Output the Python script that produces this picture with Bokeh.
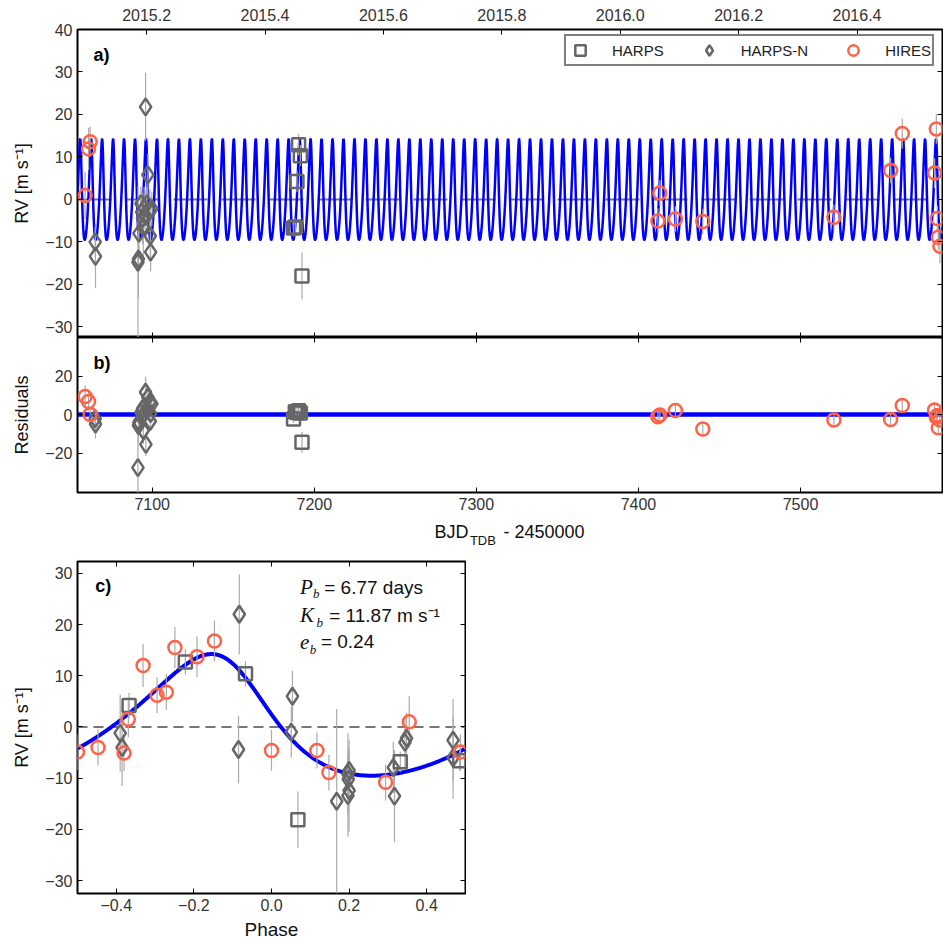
import numpy as np
from bokeh.plotting import figure
from bokeh.models import (Range1d, LinearAxis, FixedTicker, CustomJSTickFormatter,
                          PrintfTickFormatter, Span, Label, Legend, LegendItem)
from bokeh.layouts import column
from bokeh.embed import file_html
from bokeh.resources import INLINE

# ---------------- data ----------------
# panel a / b : time series (BJD_TDB - 2450000)
harps_t = [7187.2, 7188.3, 7189.3, 7190.3, 7191.4, 7192.4]
harps_rv = [-6.7, -6.5, 4.2, 12.9, 10.3, -18.0]
harps_err = [2.0, 2.0, 2.5, 2.5, 2.5, 5.5]
harps_res = [-2.3, 1.5, 1.0, 2.0, 0.8, -14.4]

harpsn_t = [7064.8, 7065.0, 7091.2, 7091.5, 7091.8, 7093.0, 7093.5, 7094.0, 7094.5,
            7095.0, 7095.9, 7096.1, 7096.8, 7097.3, 7098.5, 7098.8, 7099.0, 7099.8]
harpsn_rv = [-10.0, -13.4, -14.8, -14.0, -8.0, -1.0, -3.0, -4.5, -6.5,
             -2.0, 21.8, -4.0, -1.0, 5.8, -2.6, -8.6, -12.4, -2.2]
harpsn_err = [3.5, 7.5, 18.0, 9.0, 6.0, 4.0, 5.0, 6.0, 7.0,
              5.0, 8.0, 6.0, 4.0, 5.0, 5.0, 5.0, 4.5, 4.0]
harpsn_res = [-2.2, -4.9, -27.6, -5.7, -4.0, 1.0, -1.5, 3.0, -8.3,
              0.5, 11.6, -15.5, 2.0, 9.0, 6.4, -3.5, 0.5, 5.6]

hires_t = [7058.6, 7060.7, 7061.7, 7412.0, 7413.2, 7422.8, 7439.7, 7520.6,
           7555.6, 7562.8, 7582.7, 7583.8, 7584.4, 7585.0, 7586.0]
hires_rv = [0.9, 11.9, 13.6, -5.1, 1.5, -4.6, -5.2, -4.2,
            6.8, 15.5, 6.2, 16.6, -4.5, -8.9, -11.0]
hires_err = [5.5, 5.0, 3.5, 3.0, 3.0, 3.0, 3.0, 3.0,
             3.0, 3.5, 3.5, 3.5, 3.0, 3.0, 4.0]
hires_res = [9.4, 6.8, 0.0, -1.2, -0.3, 2.1, -7.5, -2.8,
             -2.6, 4.7, 2.4, -1.4, -0.5, -6.9, -2.8]

# panel c : phase-folded
c_harps_ph = [-0.367, -0.222, -0.067, 0.068, 0.332, 0.485]
c_harps_rv = [4.2, 12.7, 10.4, -18.1, -6.8, -6.6]
c_harps_err = [2.5, 2.5, 2.5, 5.5, 2.0, 2.0]

c_harpsn_ph = [-0.39, -0.385, -0.083, -0.085, 0.054, 0.051, 0.168, 0.2, 0.197,
               0.198, 0.2, 0.197, 0.314, 0.317, 0.344, 0.348, 0.468, 0.468]
c_harpsn_rv = [-1.2, -4.0, 22.0, -4.4, 6.0, -1.0, -14.5, -8.5, -9.2,
               -10.2, -12.4, -13.4, -7.9, -13.5, -3.0, -2.2, -2.6, -6.0]
c_harpsn_err = [7.5, 7.5, 7.8, 6.6, 5.0, 5.0, 18.0, 6.0, 8.0,
                6.0, 8.0, 8.0, 5.0, 9.0, 5.0, 5.0, 8.0, 8.0]

c_hires_ph = [-0.5, -0.447, -0.38, -0.369, -0.331, -0.295, -0.271, -0.249,
              -0.192, -0.147, 0.0, 0.117, 0.148, 0.294, 0.355, 0.487]
c_hires_rv = [-4.9, -4.0, -5.1, 1.5, 12.0, 6.2, 6.8, 15.5,
              13.7, 16.8, -4.6, -4.6, -8.9, -10.8, 1.0, -4.9]
c_hires_err = [3.5, 3.5, 3.5, 3.5, 4.2, 3.5, 3.5, 4.0,
               4.0, 4.0, 4.0, 3.5, 3.5, 3.5, 5.0, 3.5]

# Keplerian model parameters (planet b)
P_b = 6.77
K_b = 11.87
e_b = 0.24
omega_deg = 34.0
T_peri = 7584.0
phase_peri = -0.0975

# tick values
bjd_ticks = [7100, 7200, 7300, 7400, 7500]
year_ticks = [2015.2, 2015.4, 2015.6, 2015.8, 2016.0, 2016.2, 2016.4]
rv_ticks = [-30, -20, -10, 0, 10, 20, 30, 40]
res_ticks = [-20, 0, 20]
phase_ticks = [-0.4, -0.2, 0.0, 0.2, 0.4]
rvc_ticks = [-30, -20, -10, 0, 10, 20, 30]

# ---------------- styling ----------------
FONT = "Liberation Sans"
GRAY = "#666666"
RED = "tomato"
ERRC = "#aaaaaa"
BLUE = "#0000ff"


def kepler_rv(M):
    M = np.asarray(M, dtype=float)
    E = M.copy()
    for _ in range(40):
        E = E - (E - e_b * np.sin(E) - M) / (1 - e_b * np.cos(E))
    nu = 2 * np.arctan2(np.sqrt(1 + e_b) * np.sin(E / 2), np.sqrt(1 - e_b) * np.cos(E / 2))
    w = np.radians(omega_deg)
    return K_b * (np.cos(nu + w) + e_b * np.cos(w))


minus_fmt = CustomJSTickFormatter(code="return tick < 0 ? '\\u2212' + Math.abs(tick) : String(tick)")
phase_fmt = CustomJSTickFormatter(code="var s = Math.abs(tick).toFixed(1); return (tick < -1e-9 ? '\\u2212' : '') + s;")


def empty_axis(**kw):
    ax = LinearAxis(formatter=CustomJSTickFormatter(code="return ''"), **kw)
    ax.major_label_text_font_size = "0px"
    ax.major_label_standoff = 0
    return ax


def style(p):
    p.outline_line_color = "black"
    p.outline_line_width = 2
    p.grid.visible = False
    p.background_fill_color = "white"
    p.border_fill_color = "white"
    for ax in p.axis:
        ax.axis_line_color = None
        ax.major_tick_in = 5
        ax.major_tick_out = 0
        ax.minor_tick_in = 0
        ax.minor_tick_out = 0
        ax.major_tick_line_color = "black"
        ax.major_tick_line_width = 1
        ax.major_label_text_font = FONT
        ax.major_label_text_color = "#333333"
        ax.axis_label_text_font = FONT
        ax.axis_label_text_font_style = "normal"
        ax.axis_label_text_font_size = "18px"
        ax.axis_label_text_color = "#111111"
        ax.axis_label_standoff = 10
    for ax in p.axis:
        if ax.major_label_text_font_size != "0px":
            ax.major_label_text_font_size = "16px"
            ax.major_label_standoff = 5


def errbars(p, x, y, err):
    x = np.asarray(x, float)
    y = np.asarray(y, float)
    err = np.asarray(err, float)
    p.segment(x0=x, y0=y - err, x1=x, y1=y + err, line_color=ERRC, line_width=1.2)


def points(p, x, y, kind):
    if kind == "sq":
        return p.scatter(x, y, marker="square", size=13, line_color=GRAY, line_width=2.5,
                         fill_alpha=0)
    if kind == "di":
        return p.scatter(x, y, marker="diamond", size=17, line_color=GRAY, line_width=2.5,
                         fill_alpha=0)
    return p.scatter(x, y, marker="circle", size=13, line_color=RED, line_width=2.5,
                     fill_alpha=0)


X0, X1 = 7053.9, 7587.6
YEAR0 = 7023.5  # BJD - 2450000 of 2015.0
W = 943
LEFT = 77

# ---------------- panel a ----------------
pa = figure(width=W, height=337, x_range=Range1d(X0, X1), y_range=Range1d(-32.5, 40),
            output_backend="svg", toolbar_location=None,
            x_axis_location=None, y_axis_location=None,
            min_border_left=LEFT, min_border_right=1, min_border_top=29, min_border_bottom=0)
pa.extra_x_ranges = {"year": Range1d(2015 + (X0 - YEAR0) / 365.25, 2015 + (X1 - YEAR0) / 365.25)}
ax_top = LinearAxis(x_range_name="year", ticker=FixedTicker(ticks=year_ticks),
                    formatter=PrintfTickFormatter(format="%.1f"))
pa.add_layout(ax_top, "above")
pa.add_layout(empty_axis(ticker=FixedTicker(ticks=bjd_ticks)), "below")
pa.add_layout(LinearAxis(ticker=FixedTicker(ticks=rv_ticks), formatter=minus_fmt,
                         axis_label="RV [m s\u207b\u00b9]"), "left")
pa.add_layout(empty_axis(ticker=FixedTicker(ticks=rv_ticks)), "right")
style(pa)
ax_top.major_label_standoff = 9

pa.add_layout(Span(location=0, dimension="width", line_color="#777777", line_width=2,
                   line_dash="34 14", level="underlay"))
tt = np.linspace(X0, X1, 8000)
pa.line(tt, kepler_rv(2 * np.pi * (tt - T_peri) / P_b), line_color=BLUE, line_width=2.5)

errbars(pa, harps_t, harps_rv, harps_err)
errbars(pa, harpsn_t, harpsn_rv, harpsn_err)
errbars(pa, hires_t, hires_rv, hires_err)
r_sq = points(pa, harps_t, harps_rv, "sq")
r_di = points(pa, harpsn_t, harpsn_rv, "di")
r_ci = points(pa, hires_t, hires_rv, "ci")

legend = Legend(items=[LegendItem(label="HARPS", renderers=[r_sq]),
                       LegendItem(label="HARPS-N", renderers=[r_di]),
                       LegendItem(label="HIRES", renderers=[r_ci])],
                orientation="horizontal", location=(487, 271))
legend.border_line_color = "black"
legend.border_line_width = 2
legend.label_text_font = FONT
legend.label_text_font_size = "15px"
legend.label_text_color = "#222222"
legend.glyph_width = 26
legend.glyph_height = 26
legend.label_height = 20
legend.label_standoff = 19
legend.spacing = 32
legend.padding = 1
legend.margin = 0
pa.add_layout(legend)

pa.add_layout(Label(x=7063.8, y=34.0, text="a)", text_font=FONT, text_font_style="bold",
                    text_font_size="18px", text_baseline="middle", text_color="black"))

# ---------------- panel b ----------------
pb = figure(width=W, height=179, x_range=pa.x_range, y_range=Range1d(-40.5, 40),
            output_backend="svg", toolbar_location=None,
            x_axis_location=None, y_axis_location=None,
            min_border_left=LEFT, min_border_right=1, min_border_top=0, min_border_bottom=24)
pb.add_layout(empty_axis(ticker=FixedTicker(ticks=bjd_ticks)), "above")
pb.add_layout(LinearAxis(ticker=FixedTicker(ticks=bjd_ticks)), "below")
pb.add_layout(LinearAxis(ticker=FixedTicker(ticks=res_ticks), formatter=minus_fmt,
                         axis_label="Residuals"), "left")
pb.add_layout(empty_axis(ticker=FixedTicker(ticks=res_ticks)), "right")
style(pb)

pb.add_layout(Span(location=0, dimension="width", line_color=BLUE, line_width=4.5,
                   level="underlay"))
errbars(pb, harps_t, harps_res, harps_err)
errbars(pb, harpsn_t, harpsn_res, harpsn_err)
errbars(pb, hires_t, hires_res, hires_err)
points(pb, harps_t, harps_res, "sq")
points(pb, harpsn_t, harpsn_res, "di")
points(pb, hires_t, hires_res, "ci")

pb.add_layout(Label(x=7063.8, y=26.5, text="b)", text_font=FONT, text_font_style="bold",
                    text_font_size="18px", text_baseline="middle", text_color="black"))

# ---------------- x-axis title strip (BJD_TDB - 2450000) ----------------
ps = figure(width=W, height=34, x_range=pa.x_range, y_range=Range1d(0, 1),
            output_backend="svg", toolbar_location=None,
            x_axis_location=None, y_axis_location=None,
            min_border_left=LEFT, min_border_right=1, min_border_top=0, min_border_bottom=0)
ps.outline_line_color = None
ps.grid.visible = False
ps.background_fill_color = "white"
ps.border_fill_color = "white"
ps.add_layout(Label(x=7274.2, y=0.54, text="BJD", text_font=FONT, text_font_size="18px",
                    text_baseline="middle", text_color="#111111"))
ps.add_layout(Label(x=7296.0, y=0.29, text="TDB", text_font=FONT, text_font_size="13px",
                    text_baseline="middle", text_color="#111111"))
ps.add_layout(Label(x=7316.7, y=0.54, text="- 2450000", text_font=FONT, text_font_size="18px",
                    text_baseline="middle", text_color="#111111"))

# ---------------- panel c ----------------
pc = figure(width=466, height=393, x_range=Range1d(-0.5, 0.5), y_range=Range1d(-32.5, 32.3),
            output_backend="svg", toolbar_location=None,
            x_axis_location=None, y_axis_location=None,
            min_border_left=LEFT, min_border_right=1, min_border_top=11, min_border_bottom=50)
ax_phase = LinearAxis(ticker=FixedTicker(ticks=phase_ticks), formatter=phase_fmt,
                      axis_label="Phase")
pc.add_layout(ax_phase, "below")
pc.add_layout(empty_axis(ticker=FixedTicker(ticks=phase_ticks)), "above")
pc.add_layout(LinearAxis(ticker=FixedTicker(ticks=rvc_ticks), formatter=minus_fmt,
                         axis_label="RV [m s\u207b\u00b9]"), "left")
pc.add_layout(empty_axis(ticker=FixedTicker(ticks=rvc_ticks)), "right")
style(pc)
ax_phase.axis_label_standoff = 5
ax_phase.axis_label_text_font_size = "19px"

pc.add_layout(Span(location=0, dimension="width", line_color="#777777", line_width=2,
                   line_dash="10 6", level="underlay"))
ph = np.linspace(-0.5, 0.5, 600)
pc.line(ph, kepler_rv(2 * np.pi * (ph - phase_peri)), line_color=BLUE, line_width=4)

errbars(pc, c_harps_ph, c_harps_rv, c_harps_err)
errbars(pc, c_harpsn_ph, c_harpsn_rv, c_harpsn_err)
errbars(pc, c_hires_ph, c_hires_rv, c_hires_err)
points(pc, c_harps_ph, c_harps_rv, "sq")
points(pc, c_harpsn_ph, c_harpsn_rv, "di")
points(pc, c_hires_ph, c_hires_rv, "ci")

pc.add_layout(Label(x=-0.454, y=27.5, text="c)", text_font=FONT, text_font_style="bold",
                    text_font_size="18px", text_baseline="middle", text_color="black"))

SERIF = "Liberation Serif"
for sym, ys, xsub, ysub, xeq, txt in [
        ("P", 27.3, 0.1068, 26.0, 0.1359, "= 6.77 days"),
        ("K", 21.8, 0.1160, 20.4, 0.1487, "= 11.87 m s\u207b\u00b9"),
        ("e", 16.6, 0.0985, 15.2, 0.1273, "= 0.24")]:
    pc.add_layout(Label(x=0.0733, y=ys, text=sym, text_font=SERIF, text_font_style="italic",
                        text_font_size="21px", text_baseline="middle", text_color="#111111"))
    pc.add_layout(Label(x=xsub, y=ysub, text="b", text_font=SERIF, text_font_style="italic",
                        text_font_size="13px", text_baseline="middle", text_color="#111111"))
    pc.add_layout(Label(x=xeq, y=ys, text=txt, text_font=FONT,
                        text_font_size="19px", text_baseline="middle", text_color="#111111"))

layout = column(pa, pb, ps, pc, spacing=0)
open("out.html", "w").write(file_html(layout, INLINE))
